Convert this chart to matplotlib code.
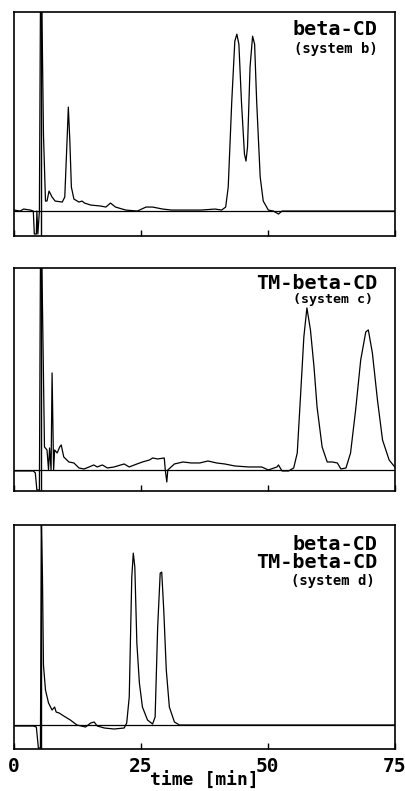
import matplotlib.pyplot as plt

# injection marker (min)
t_inject = 5.3

# system b: beta-CD
t_b = [0, 1.2, 1.9, 3.2, 3.8, 4.0, 4.4, 4.5, 4.7, 5.0, 5.2, 5.5, 5.8, 6.2, 6.5, 6.9, 7.5,
       8.1, 9.5, 10.0, 10.5, 10.7, 11.0, 11.3, 11.8, 12.8, 13.4, 13.9, 15.1, 17.1, 18.1,
       19.0, 20.0, 22.0, 24.3, 26.0, 27.3, 29.3, 31.0, 36.9, 39.6, 40.9, 41.7, 42.2, 42.9,
       43.5, 43.9, 44.3, 44.8, 45.4, 45.7, 46.0, 46.5, 47.0, 47.4, 47.8, 48.5, 49.1, 50.1,
       51.1, 52.1, 52.8, 75]
y_b = [1, 0, 2, 1, 0, -23, -23, 0, -23, 0, 199, 199, 77, 10, 10, 20, 14,
       10, 9, 14, 77, 104, 70, 24, 12, 9, 10, 8, 6, 5, 4,
       8, 4, 1, 0, 4, 4, 2, 1, 1, 2, 1, 4, 24, 110,
       170, 177, 167, 110, 57, 50, 64, 144, 175, 167, 110, 34, 10, 1,
       0, -3, 0, 0]

# system c: TM-beta-CD
t_c = [0, 3.8, 4.2, 4.5, 5.0, 5.2, 5.5, 6.0, 6.5, 6.8, 7.0, 7.3, 7.5, 7.8, 8.0, 8.5, 9.0,
       9.3, 9.8, 10.8, 11.8, 12.8, 13.8, 14.8, 15.7, 16.4, 17.4, 18.4, 19.7, 21.7, 22.7,
       23.7, 25.3, 26.7, 27.3, 28.3, 29.6, 29.8, 30.1, 30.3, 31.6, 33.3, 34.9, 36.6, 38.2,
       39.9, 41.5, 43.5, 46.2, 48.8, 50.1, 51.8, 52.1, 52.8, 54.1, 55.1, 55.8, 56.4, 57.1,
       57.7, 58.4, 59.1, 59.7, 60.7, 61.7, 62.7, 63.7, 64.4, 65.4, 66.3, 67.3, 68.3, 69.3,
       69.8, 70.6, 71.6, 72.6, 73.9, 75]
y_c = [-1, -1, -3, -20, -20, 202, 202, 23, 20, 0, 22, 0, 97, 0, 20, 17, 23,
       25, 13, 8, 7, 2, 1, 3, 5, 3, 5, 2, 3, 6, 3,
       5, 8, 10, 12, 11, 12, 0, -12, 0, 6, 8, 7, 7, 9,
       7, 6, 4, 3, 3, 0, 3, 5, -1, -1, 2, 17, 70, 133,
       162, 140, 103, 63, 23, 8, 8, 7, 1, 2, 17, 60, 110, 138,
       140, 117, 70, 30, 10, 3]

# system d: beta-CD + TM-beta-CD
t_d = [0, 3.8, 4.4, 4.8, 5.2, 5.4, 5.6, 5.8, 6.2, 6.8, 7.5, 8.0, 8.3, 8.9, 9.8, 11.1, 12.4,
       14.1, 15.1, 15.8, 16.4, 17.8, 19.7, 21.7, 22.2, 22.7, 23.2, 23.5, 23.8, 24.2, 24.7,
       25.3, 26.3, 27.3, 27.8, 28.3, 28.8, 29.1, 29.5, 30.0, 30.6, 31.6, 32.6, 75]
y_d = [-1, -1, -2, -23, -23, 200, 150, 60, 35, 22, 15, 18, 13, 12, 9, 5, 0,
       -2, 2, 3, -1, -3, -4, -3, 2, 28, 148, 172, 158, 82, 42,
       18, 5, 1, 8, 98, 152, 153, 115, 55, 18, 3, 0, 0]

labels_b = ["beta-CD", "(system b)"]
labels_c = ["TM-beta-CD", "(system c)"]
labels_d = ["beta-CD\nTM-beta-CD", "(system d)"]
x_ticks = [0, 25, 50, 75]

mono = "DejaVu Sans Mono"

fig = plt.figure(figsize=(4.05, 7.91), dpi=100)
ax1 = fig.add_axes([0.0346, 0.7016, 0.94, 0.283])
ax2 = fig.add_axes([0.0346, 0.3793, 0.94, 0.282])
ax3 = fig.add_axes([0.0346, 0.0531, 0.94, 0.283])

panels = [
    (ax1, t_b, y_b, (-25, 199), [(labels_b[0], 14.5, 0.955, 0.897), (labels_b[1], 10, 0.955, 0.818)]),
    (ax2, t_c, y_c, (-21, 202), [(labels_c[0], 14.5, 0.955, 0.906), (labels_c[1], 9.5, 0.942, 0.843)]),
    (ax3, t_d, y_d, (-24, 200), [(labels_d[0], 14.5, 0.955, 0.808), (labels_d[1], 10, 0.948, 0.732)]),
]

for ax, t, y, ylim, texts in panels:
    ax.plot(t, y, color="black", lw=0.9)
    ax.axhline(0, color="black", lw=0.9)
    ax.axvline(t_inject, color="black", lw=1.0)
    ax.set_xlim(0, 75)
    ax.set_ylim(*ylim)
    ax.set_yticks([])
    ax.set_xticks(x_ticks)
    ax.tick_params(axis="x", direction="in", length=4, width=1, top=False)
    for s in ax.spines.values():
        s.set_linewidth(1.2)
    for txt, size, x, yy in texts:
        ax.text(x, yy, txt, transform=ax.transAxes, ha="right", va="baseline",
                multialignment="right", linespacing=0.95,
                fontsize=size, fontweight="bold", family=mono)

ax1.set_xticklabels([])
ax2.set_xticklabels([])
ax3.set_xticklabels([str(v) for v in x_ticks], fontsize=14, fontweight="bold", family=mono)
ax3.tick_params(axis="x", pad=6)
ax3.set_xlabel("time [min]", fontsize=13, fontweight="bold", family=mono, labelpad=-3)

fig.savefig("out.png", dpi=100)
